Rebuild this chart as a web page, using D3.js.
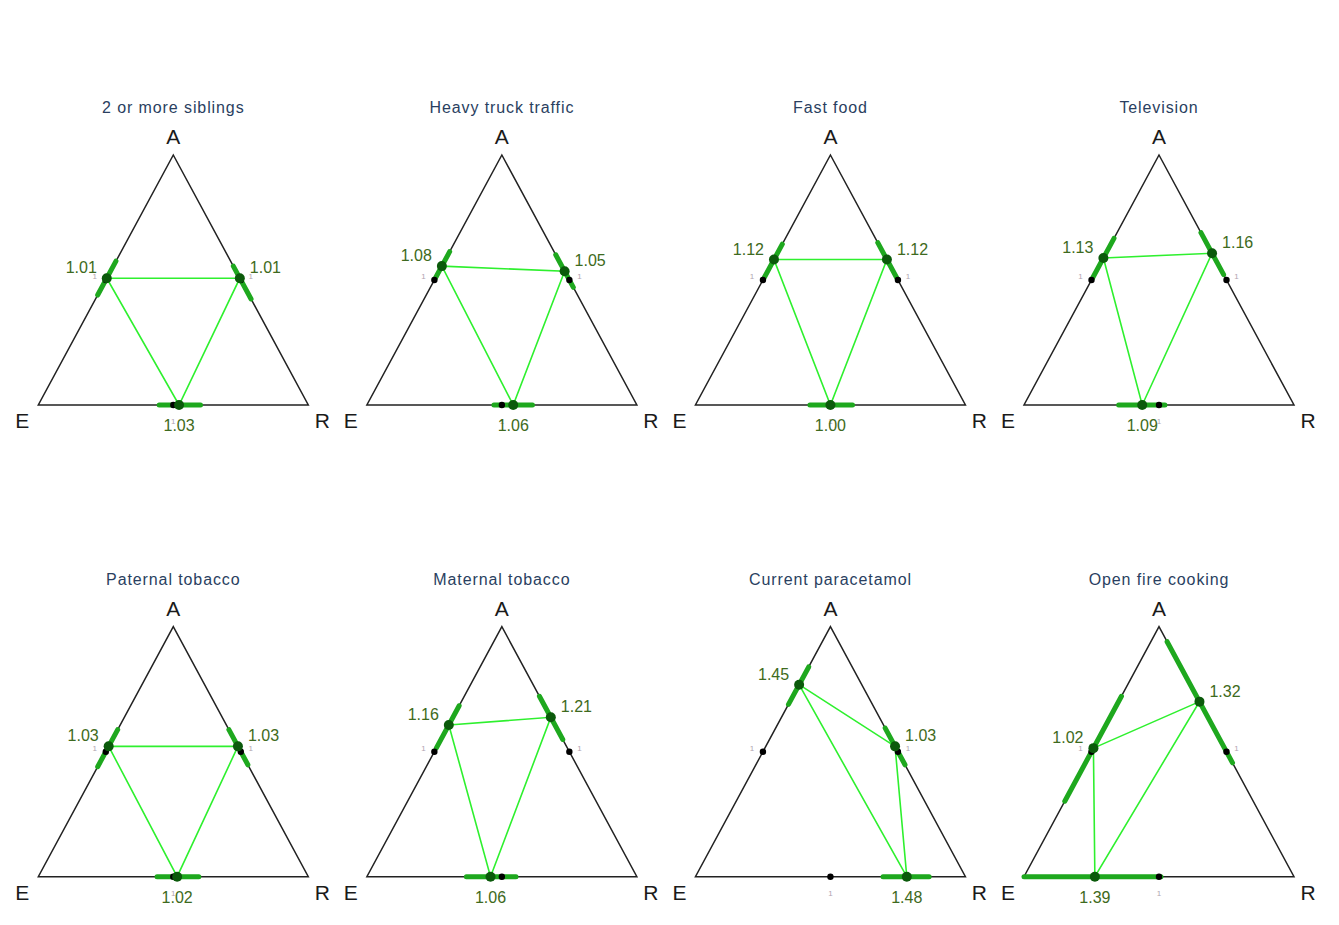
<!DOCTYPE html>
<html>
<head>
<meta charset="utf-8">
<script src="https://cdn.jsdelivr.net/npm/d3@7"></script>
<style>
  body { margin: 0; background: #fff; }
  text { font-family: "Liberation Sans", Arial, sans-serif; }
</style>
</head>
<body>
<svg id="chart" width="1339" height="925"></svg>
<script>
// panel titles, row by row
const titles = ['2 or more siblings', 'Heavy truck traffic', 'Fast food', 'Television',
                'Paternal tobacco', 'Maternal tobacco', 'Current paracetamol', 'Open fire cooking'];

// left side (E - A): odds ratio and its interval
const leftOR = [1.01, 1.08, 1.12, 1.13, 1.03, 1.16, 1.45, 1.02];
const leftLo = [0.92, 1.00, 1.01, 1.01, 0.92, 1.02, 1.30, 0.76];
const leftHi = [1.11, 1.17, 1.22, 1.26, 1.13, 1.29, 1.60, 1.36];
const leftDir = [1, 1, 1, 1, 1, 1, 1, 1];

// right side (R - A)
const rightOR = [1.01, 1.05, 1.12, 1.16, 1.03, 1.21, 1.03, 1.32];
const rightLo = [0.90, 0.96, 1.01, 1.03, 0.93, 1.07, 0.93, 0.94];
const rightHi = [1.08, 1.15, 1.23, 1.30, 1.13, 1.36, 1.14, 1.84];
const rightDir = [1, 1, 1, 1, 1, 1, 1, 1];

// bottom side (E - R); -1 means the ratio points toward E
const bottomOR = [1.03, 1.06, 1.00, 1.09, 1.02, 1.06, 1.48, 1.39];
const bottomLo = [0.93, 0.96, 0.90, 0.97, 0.92, 0.93, 1.31, 0.99];
const bottomHi = [1.15, 1.17, 1.12, 1.23, 1.14, 1.20, 1.66, 2.10];
const bottomDir = [1, 1, 1, -1, 1, -1, 1, -1];

const vertexNames = ['A', 'E', 'R'];

const svg = d3.select('#chart');

const colScale = d3.scaleLinear().domain([0, 3]).range([173.3, 1159]);
const rowScale = d3.scaleLinear().domain([0, 1]).range([155, 626.7]);
// position along a side, log odds ratio from 0.5 to 2
const sidePos = d3.scaleLog().domain([0.5, 2]).range([0, 1]).clamp(true);
const fmt = d3.format('.2f');

const half = 135, tall = 250;
const vA = [0, 0], vE = [-half, tall], vR = [half, tall];

const sides = [
    {key: 'left', from: vE, to: vA, or: leftOR, lo: leftLo, hi: leftHi, dir: leftDir},
    {key: 'right', from: vR, to: vA, or: rightOR, lo: rightLo, hi: rightHi, dir: rightDir},
    {key: 'bottom', from: vE, to: vR, or: bottomOR, lo: bottomLo, hi: bottomHi, dir: bottomDir}
];

function pointOn(side, v, d) {
    let f = sidePos(d > 0 ? v : 1 / v);
    return d3.interpolateArray(side.from, side.to)(f);
}

titles.forEach(function (title, i) {
    let g = svg.append('g')
        .attr('transform', 'translate(' + colScale(i % 4) + ',' + rowScale(Math.floor(i / 4)) + ')');

    // triangle
    g.append('path')
        .attr('d', d3.line()([vA, vR, vE, vA]) + 'Z')
        .attr('fill', 'none')
        .attr('stroke', '#222')
        .attr('stroke-width', 1.5);

    let est = sides.map(s => ({
        side: s,
        p: pointOn(s, s.or[i], s.dir[i]),
        lo: pointOn(s, s.lo[i], s.dir[i]),
        hi: pointOn(s, s.hi[i], s.dir[i]),
        ref: pointOn(s, 1, 1),
        value: s.or[i]
    }));

    // confidence intervals
    g.selectAll('line.ci').data(est).enter().append('line')
        .attr('class', 'ci')
        .attr('x1', d => d.lo[0]).attr('y1', d => d.lo[1])
        .attr('x2', d => d.hi[0]).attr('y2', d => d.hi[1])
        .attr('stroke', '#1ea81e')
        .attr('stroke-width', 5)
        .attr('stroke-linecap', 'round');

    // connecting lines
    g.append('path')
        .attr('d', d3.line()(est.map(d => d.p)) + 'Z')
        .attr('fill', 'none')
        .attr('stroke', '#2ef02e')
        .attr('stroke-width', 1.6);

    // reference point at 1
    g.selectAll('circle.ref').data(est).enter().append('circle')
        .attr('class', 'ref')
        .attr('cx', d => d.ref[0]).attr('cy', d => d.ref[1])
        .attr('r', 3.2)
        .attr('fill', '#000');

    g.selectAll('text.ref').data(est).enter().append('text')
        .attr('class', 'ref')
        .attr('x', d => d.side.key == 'left' ? d.ref[0] - 11 : d.side.key == 'right' ? d.ref[0] + 10 : d.ref[0])
        .attr('y', d => d.side.key == 'bottom' ? d.ref[1] + 19 : d.ref[1] - 1)
        .attr('text-anchor', 'middle')
        .attr('font-size', 8)
        .attr('fill', '#b0a4b0')
        .text('1');

    // estimates
    g.selectAll('circle.est').data(est).enter().append('circle')
        .attr('class', 'est')
        .attr('cx', d => d.p[0]).attr('cy', d => d.p[1])
        .attr('r', 5)
        .attr('fill', '#0b5a0b');

    g.selectAll('text.est').data(est).enter().append('text')
        .attr('class', 'est')
        .attr('x', d => d.side.key == 'left' ? d.p[0] - 10 : d.side.key == 'right' ? d.p[0] + 10 : d.p[0])
        .attr('y', d => d.side.key == 'bottom' ? d.p[1] + 26 : d.p[1] - 5)
        .attr('text-anchor', d => d.side.key == 'left' ? 'end' : d.side.key == 'right' ? 'start' : 'middle')
        .attr('font-size', 16)
        .attr('fill', '#3e6a20')
        .text(d => fmt(d.value));

    // vertex names
    let vpos = [[0, -11], [vE[0] - 16, vE[1] + 23], [vR[0] + 14, vR[1] + 23]];
    g.selectAll('text.vertex').data(vertexNames).enter().append('text')
        .attr('class', 'vertex')
        .attr('x', (d, k) => vpos[k][0])
        .attr('y', (d, k) => vpos[k][1])
        .attr('text-anchor', 'middle')
        .attr('font-size', 21)
        .attr('fill', '#1a1a1a')
        .text(d => d);

    g.append('text')
        .attr('x', 0).attr('y', -42)
        .attr('text-anchor', 'middle')
        .attr('font-size', 16)
        .attr('letter-spacing', 0.9)
        .attr('fill', '#2a3f5f')
        .text(title);
});
</script>
</body>
</html>
